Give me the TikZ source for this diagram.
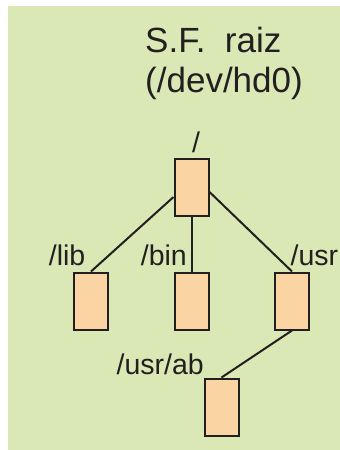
\documentclass[tikz,border=0pt]{standalone}
\usepackage{fontspec}
\setmainfont{Liberation Sans}
\definecolor{fondo}{HTML}{D9E8B4}
\definecolor{pessego}{HTML}{FBD4A3}
\definecolor{tinta}{HTML}{231F20}
\tikzset{
  caja/.style = {draw = tinta, fill = pessego, line width = 2pt,
    minimum width = 34pt, minimum height = 57pt, inner sep = 0pt},
  etiqueta/.style = {text = tinta, inner sep = 0pt,
    font = \fontsize{28.5}{30}\selectfont},
  titulo/.style = {text = tinta, inner sep = 0pt, anchor = base west,
    font = \fontsize{35}{40}\selectfont},
  rama/.style = {draw = tinta, line width = 2pt}
}
\begin{document}
\begin{tikzpicture}[x = 1pt, y = -1pt]
    \useasboundingbox (0, 0) rectangle (340, 450);
    \fill [fondo] (8, 6) rectangle (340, 450);
    \node [titulo] (tit1) at (145, 52) {S.F.\ \ raiz};
    \node [titulo] (tit2) at (145, 92) {(/dev/hd0)};
    \node [caja] (raiz) at (191.5, 187) {};
    \node [caja] (lib) at (91, 301) {};
    \node [caja] (bin) at (191.5, 301) {};
    \node [caja] (usr) at (292, 301) {};
    \node [caja] (ab) at (221.5, 407) {};
    \node [etiqueta, anchor = base] (lraiz) at (196, 152) {/};
    \node [etiqueta, anchor = base east] (llib) at (85.5, 265) {/lib};
    \node [etiqueta, anchor = base east] (lbin) at (187, 265) {/bin};
    \node [etiqueta, anchor = base west] (lusr) at (290.5, 265) {/usr};
    \node [etiqueta, anchor = base east] (lab) at (204, 374) {/usr/ab};
    \draw [rama] ([yshift = -10pt] raiz.west) -- (lib.north);
    \draw [rama] (raiz.south) -- (bin.north);
    \draw [rama] ([yshift = -5pt] raiz.east) -- (usr.north);
    \draw [rama] (usr.south) -- (ab.north);
  \end{tikzpicture}
\end{document}
